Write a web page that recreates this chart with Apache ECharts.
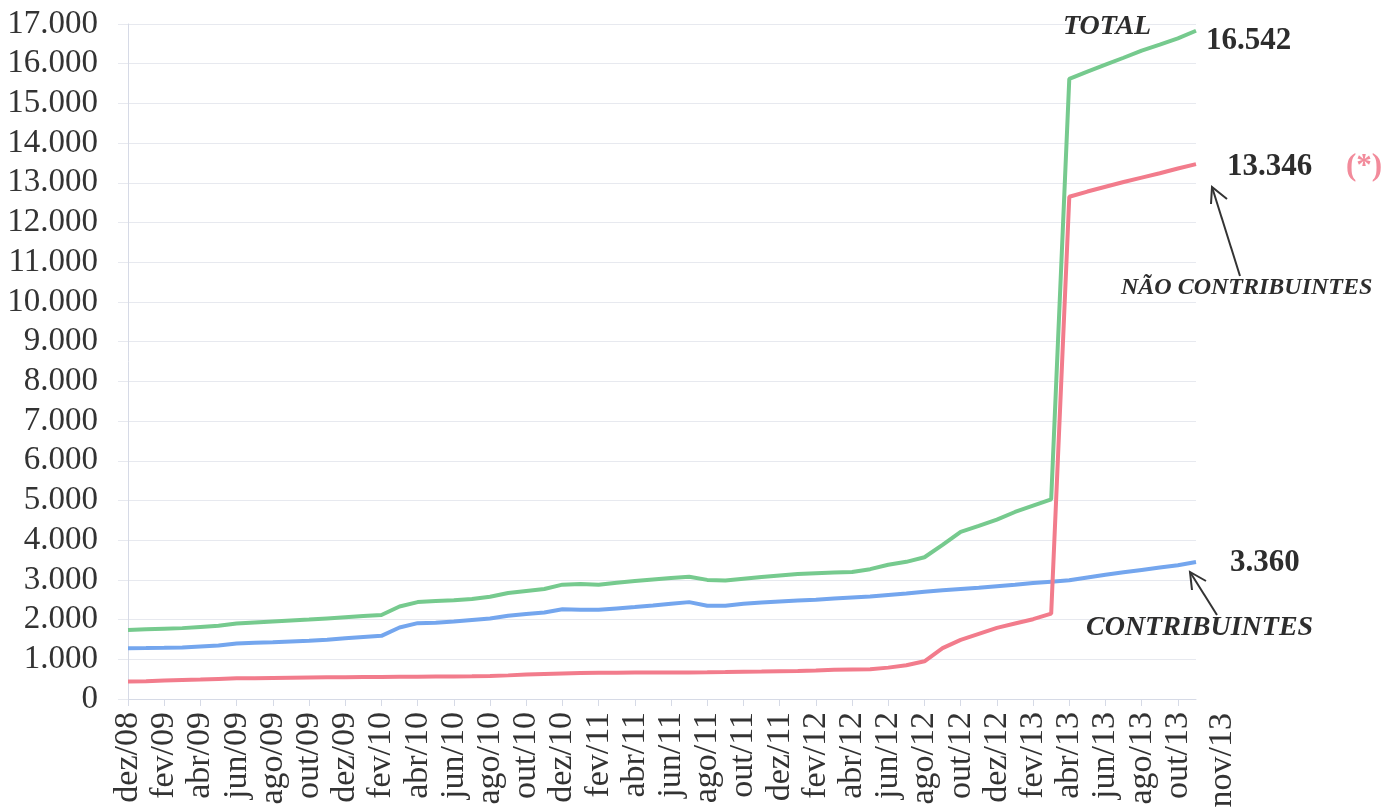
<!DOCTYPE html>
<html><head><meta charset="utf-8">
<script src="https://cdn.jsdelivr.net/npm/echarts@6/dist/echarts.min.js"></script>
<style>html,body{margin:0;background:#fff}#c{width:1400px;height:811px}</style>
</head><body><div id="c"></div>
<script>
const months = ['dez/08','jan/09','fev/09','mar/09','abr/09','mai/09','jun/09','jul/09','ago/09','set/09','out/09','nov/09',
'dez/09','jan/10','fev/10','mar/10','abr/10','mai/10','jun/10','jul/10','ago/10','set/10','out/10','nov/10',
'dez/10','jan/11','fev/11','mar/11','abr/11','mai/11','jun/11','jul/11','ago/11','set/11','out/11','nov/11',
'dez/11','jan/12','fev/12','mar/12','abr/12','mai/12','jun/12','jul/12','ago/12','set/12','out/12','nov/12',
'dez/12','jan/13','fev/13','mar/13','abr/13','mai/13','jun/13','jul/13','ago/13','set/13','out/13','nov/13'];

const total = [1740,1755,1770,1785,1815,1845,1900,1925,1950,1975,
2000,2030,2060,2090,2115,2330,2440,2470,2490,2520,
2575,2670,2720,2770,2880,2895,2880,2930,2970,3010,
3050,3080,3000,2985,3030,3070,3110,3150,3170,3185,
3200,3270,3380,3455,3570,3880,4210,4360,4520,4710,
4870,5030,15620,15800,15975,16150,16330,16480,16640,16830];

const contribuintes = [1277,1282,1290,1300,1325,1350,1400,1415,1430,1450,
1465,1490,1530,1560,1590,1800,1910,1920,1950,1990,
2030,2095,2140,2180,2260,2250,2245,2280,2315,2355,
2400,2440,2350,2350,2400,2430,2455,2480,2500,2530,
2555,2580,2620,2655,2700,2740,2770,2800,2840,2875,
2920,2955,2990,3060,3130,3190,3250,3310,3370,3450];

const naoContribuintes = [440,450,465,478,490,505,520,525,530,535,
540,545,550,553,556,560,562,565,568,572,
580,595,615,630,645,655,660,662,665,667,
668,670,672,678,685,692,700,708,720,735,
745,750,790,850,950,1280,1490,1640,1790,1900,
2010,2150,12650,12780,12900,13020,13130,13240,13360,13470];

const endLabels = ['16.542','13.346','3.360'];
const seriesNames = ['TOTAL','NÃO CONTRIBUINTES','CONTRIBUINTES'];
const lastMonthLabel = 'nov/13';

const serif = '"Liberation Serif", "Times New Roman", serif';
const ink = '#2d2d2d';
const axisCol = '#d6dae6';
const gridCol = '#e7e9ef';

const chart = echarts.init(document.getElementById('c'));
function fmt(v){ return String(v).replace(/\B(?=(\d{3})+(?!\d))/g,'.'); }

function txt(x,y,text,size,opts){
  return Object.assign({type:'text', x:x, y:y, z:100, style:Object.assign({
    text:text, fontSize:size, fontFamily:serif, fill:ink, align:'left', verticalAlign:'middle'
  }, opts||{})});
}

chart.setOption({
  animation:false,
  backgroundColor:'#fff',
  grid:{left:128, top:24, width:1068, height:675, containLabel:false},
  xAxis:{
    type:'category', data:months, boundaryGap:false,
    axisLine:{show:true, lineStyle:{color:axisCol, width:1}},
    axisTick:{show:true, interval:1, length:7, lineStyle:{color:axisCol}},
    axisLabel:{interval:1, rotate:90, margin:13, fontFamily:serif, fontSize:34, color:'#333'},
    splitLine:{show:false}
  },
  yAxis:{
    type:'value', min:0, max:17000, interval:1000,
    axisLine:{show:true, lineStyle:{color:axisCol}},
    axisTick:{show:true, length:10, lineStyle:{color:gridCol}},
    splitLine:{show:true, lineStyle:{color:gridCol, width:1}},
    axisLabel:{margin:30, fontFamily:serif, fontSize:33, color:'#333', formatter:fmt}
  },
  series:[
    {name:seriesNames[0], type:'line', data:total, symbol:'none', smooth:false,
     lineStyle:{color:'#76ca8e', width:4}, itemStyle:{color:'#76ca8e'}},
    {name:seriesNames[2], type:'line', data:contribuintes, symbol:'none', smooth:false,
     lineStyle:{color:'#74a6ee', width:4}, itemStyle:{color:'#74a6ee'}},
    {name:seriesNames[1], type:'line', data:naoContribuintes, symbol:'none', smooth:false,
     lineStyle:{color:'#f27c8c', width:4}, itemStyle:{color:'#f27c8c'}}
  ],
  graphic:[
    txt(1063, 27, seriesNames[0], 28, {fontWeight:'bold', fontStyle:'italic'}),
    txt(1206, 41, endLabels[0], 31, {fontWeight:'bold'}),
    txt(1227, 167, endLabels[1], 31, {fontWeight:'bold'}),
    txt(1346, 167, '(*)', 31, {fontWeight:'bold', fill:'#f28b9b'}),
    txt(1121, 288, seriesNames[1], 24, {fontWeight:'bold', fontStyle:'italic'}),
    txt(1230, 563, endLabels[2], 31, {fontWeight:'bold'}),
    txt(1086, 628, seriesNames[2], 28, {fontWeight:'bold', fontStyle:'italic'}),
    {type:'text', x:1222, y:713, rotation:Math.PI/2, z:100,
     style:{text:lastMonthLabel, fontSize:34, fontFamily:serif, fill:'#333', align:'right', verticalAlign:'middle'}},
    {type:'line', z:100, shape:{x1:1240, y1:276, x2:1212, y2:187}, style:{stroke:'#333', lineWidth:2}},
    {type:'polyline', z:100, shape:{points:[[1211,204],[1212,187],[1227,199]]}, style:{stroke:'#333', lineWidth:2, fill:null}},
    {type:'line', z:100, shape:{x1:1217, y1:615, x2:1190, y2:572}, style:{stroke:'#333', lineWidth:2}},
    {type:'polyline', z:100, shape:{points:[[1192,590],[1190,572],[1206,581]]}, style:{stroke:'#333', lineWidth:2, fill:null}}
  ]
});
</script></body></html>
